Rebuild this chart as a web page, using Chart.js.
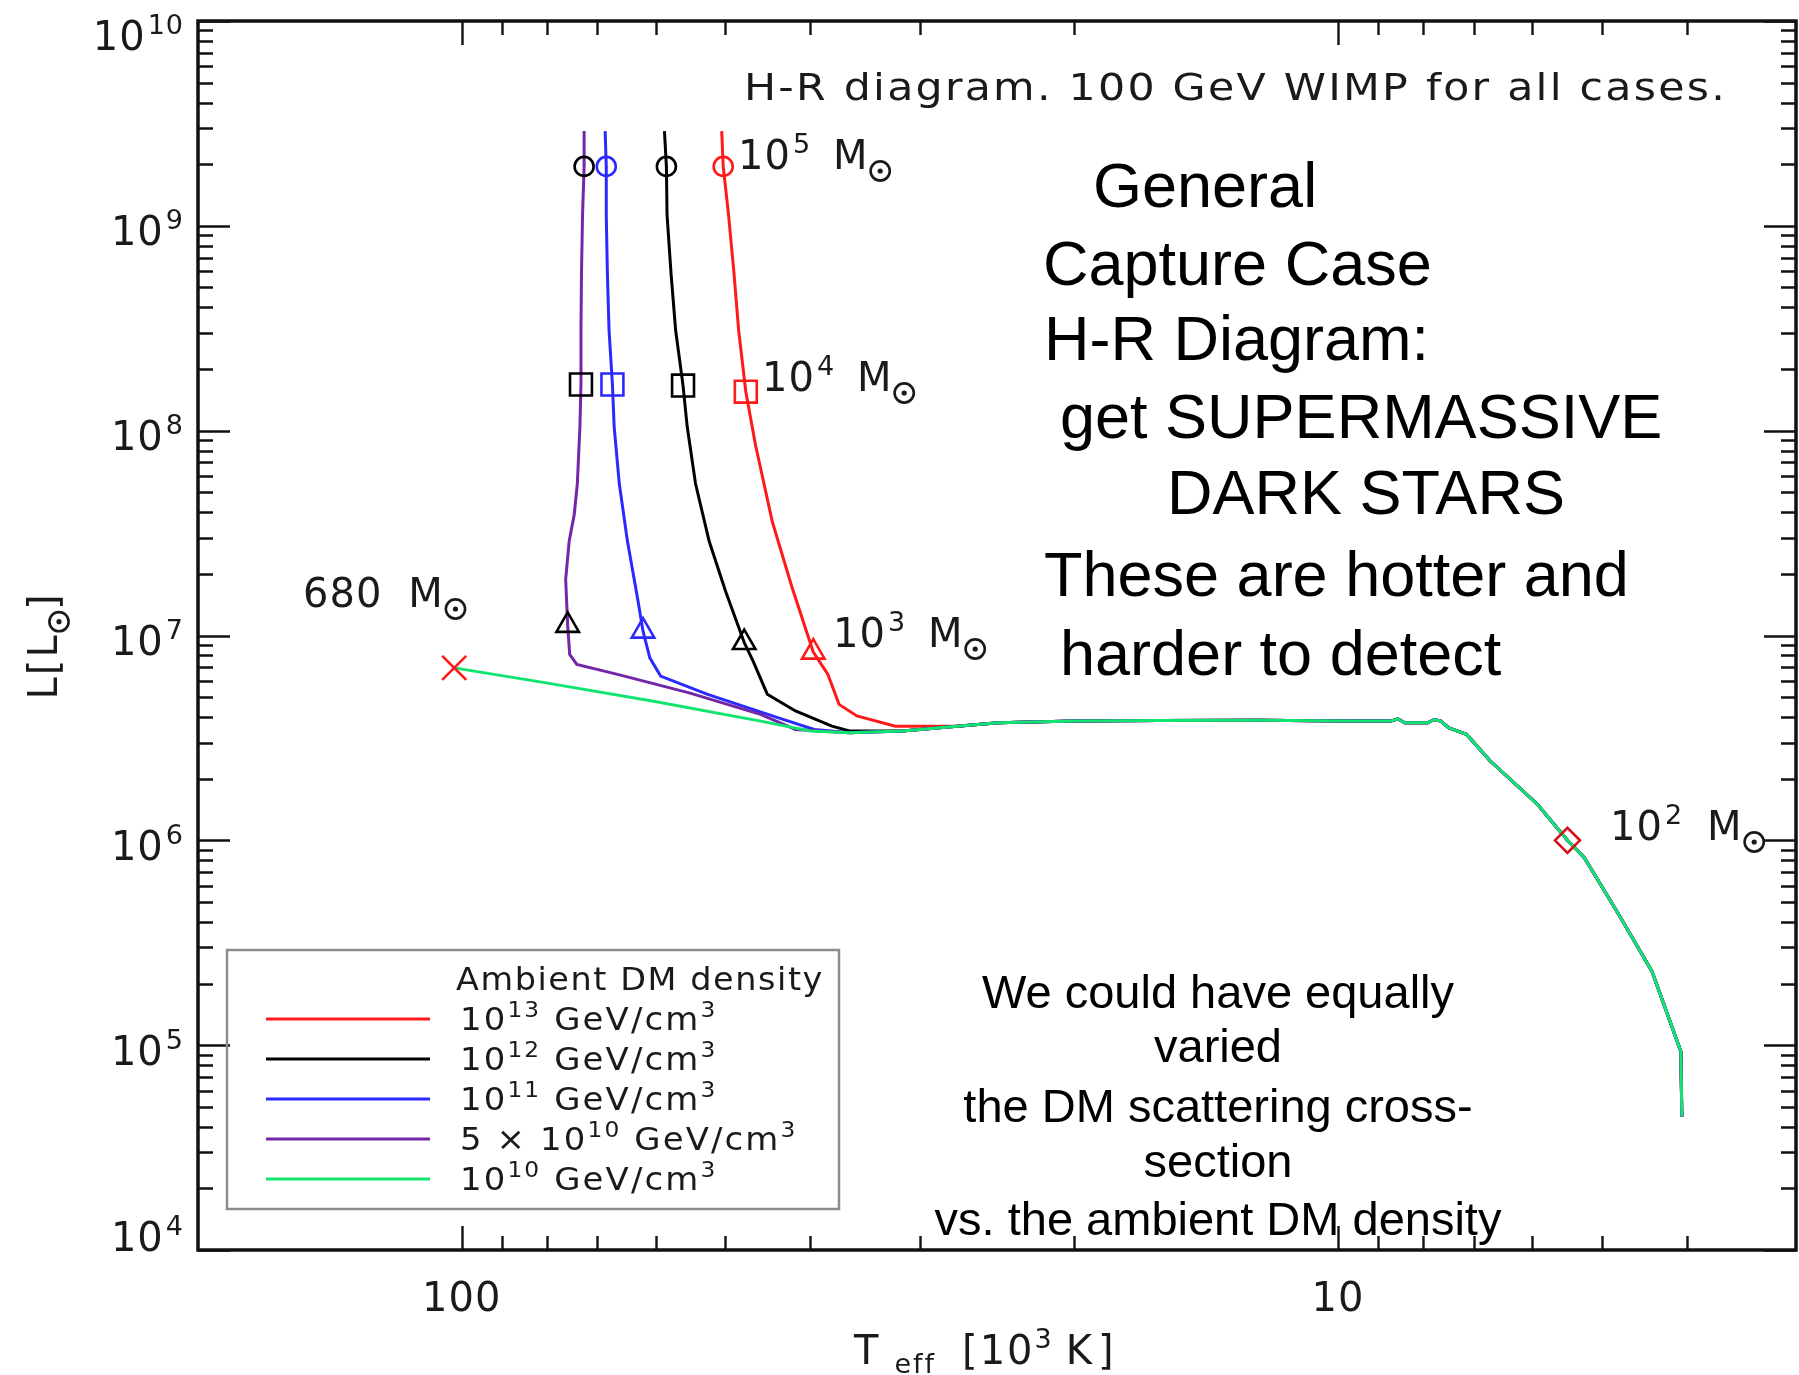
<!DOCTYPE html>
<html>
<head>
<meta charset="utf-8">
<title>Dark star H-R diagram</title>
<script src="https://cdn.jsdelivr.net/npm/chart.js@4.4.0/dist/chart.umd.min.js"></script>
<style>
  html, body { margin: 0; padding: 0; background: #fff; overflow: hidden; }
  #wrap { width: 1799px; height: 1375px; }
  canvas { display: block; }
</style>
</head>
<body>
<div id="wrap"><canvas id="hr" width="1799" height="1375"></canvas></div>
<script>
/* ---------------------------------------------------------------------------
   Tracks: T_eff in 10^3 K, luminosity in L_sun.
   Every density track ends on the same shared tail (tailTemp / tailLum).
   --------------------------------------------------------------------------- */
const tempRed    = [50.5, 50.3, 49.6, 48.9, 48.3, 47.4, 46.2, 44.2, 42.0, 39.7, 38.2, 37.1, 35.4, 32.0, 28.6];
const lumRed     = [2.90e9, 1.95e9, 1.13e9, 5.89e8, 3.09e8, 1.55e8, 8.49e7, 3.58e7, 1.73e7, 8.30e6, 6.46e6, 4.61e6, 4.05e6, 3.61e6, 3.61e6];

const tempBlack  = [58.7, 58.4, 58.3, 57.7, 57.0, 55.9, 55.3, 54.1, 52.2, 50.0, 47.6, 46.5, 44.8, 41.6, 37.8, 36.1, 31.4];
const lumBlack   = [2.90e9, 1.95e9, 1.13e9, 5.89e8, 3.09e8, 1.66e8, 1.05e8, 5.52e7, 2.89e7, 1.65e7, 9.24e6, 7.50e6, 5.17e6, 4.28e6, 3.61e6, 3.42e6, 3.42e6];

const tempBlue   = [68.6, 68.4, 68.4, 68.2, 67.9, 67.3, 67.0, 66.1, 64.7, 63.0, 62.1, 61.0, 59.3, 52.5, 43.5, 39.6, 36.1, 31.4];
const lumBlue    = [2.90e9, 1.95e9, 1.13e9, 5.89e8, 3.09e8, 1.68e8, 1.05e8, 5.52e7, 2.89e7, 1.52e7, 1.05e7, 7.78e6, 6.34e6, 5.17e6, 3.96e6, 3.48e6, 3.35e6, 3.42e6];

const tempPurple = [72.5, 72.5, 72.8, 73.0, 73.1, 73.1, 73.3, 73.8, 74.4, 75.4, 76.1, 75.7, 75.3, 73.9, 66.4, 55.0, 45.6, 41.6, 36.1, 31.4];
const lumPurple  = [2.90e9, 1.95e9, 1.13e9, 5.89e8, 3.09e8, 1.68e8, 1.05e8, 5.52e7, 3.91e7, 2.89e7, 1.88e7, 1.12e7, 8.09e6, 7.23e6, 6.46e6, 5.25e6, 4.12e6, 3.48e6, 3.35e6, 3.42e6];

const tempGreen  = [102, 80.1, 60.4, 45.6, 40.0, 36.1, 31.4];
const lumGreen   = [6.95e6, 5.87e6, 4.78e6, 3.82e6, 3.42e6, 3.35e6, 3.42e6];

const tailTemp = [27.2, 24.4, 20.0, 16.0, 12.3, 9.74, 8.70, 8.54, 8.39, 7.90, 7.76, 7.63, 7.47, 7.13, 6.70, 5.92, 5.47, 5.23, 4.78, 4.38, 4.06, 4.05];
const tailLum  = [3.61e6, 3.75e6, 3.82e6, 3.85e6, 3.86e6, 3.82e6, 3.82e6, 3.92e6, 3.75e6, 3.75e6, 3.89e6, 3.82e6, 3.54e6, 3.29e6, 2.44e6, 1.50e6, 1.00e6, 8.2e5, 4.34e5, 2.29e5, 9.31e4, 4.48e4];

// mass markers, ordered purple, blue, black, red
const circleTemp   = [72.5, 68.4, 58.4, 50.3];
const circleLum    = [1.95e9, 1.95e9, 1.95e9, 1.95e9];
const squareTemp   = [73.1, 67.3, 55.9, 47.4];
const squareLum    = [1.68e8, 1.68e8, 1.66e8, 1.55e8];
const triangleTemp = [75.7, 62.1, 47.6, 39.7];
const triangleLum  = [1.12e7, 1.05e7, 9.24e6, 8.30e6];
const markerColors = ['#000000', '#2a2aff', '#000000', '#ff1a1a'];

const startTemp = [102];    // 680 M_sun
const startLum  = [6.95e6];
const diamondTemp = [5.47]; // 10^2 M_sun
const diamondLum  = [1.0e6];

// axes
const lumTickExp     = [4, 5, 6, 7, 8, 9, 10];
const tempTickValues = [100, 10];
const tempTickLabels = ['100', '10'];
const tempMinorTicks = [4, 5, 6, 7, 8, 9, 20, 30, 40, 50, 60, 70, 80, 90];

// legend
const densityPrefix = ['', '', '', '5 \u00d7 ', ''];
const densityExp    = ['13', '12', '11', '10', '10'];

const COL = {
  red: '#ff1a1a',
  black: '#000000',
  blue: '#2a2aff',
  purple: '#7326a8',
  green: '#12e470'
};
const legendColors = [COL.red, COL.black, COL.blue, COL.purple, COL.green];

const IDL_FONT = '"DejaVu Sans", sans-serif';
const NOTE_FONT = '"Liberation Sans", Arial, sans-serif';
const INK = '#1a1a1a';

function toPoints(xs, ys) {
  return xs.map((x, i) => ({ x: x, y: ys[i] }));
}

function track(label, color, temps, lums, order) {
  return {
    label: label,
    data: toPoints(temps.concat(tailTemp), lums.concat(tailLum)),
    showLine: true,
    borderColor: color,
    borderWidth: 3,
    pointRadius: 0,
    fill: false,
    order: order
  };
}

function markers(temps, lums, style, radius, colors) {
  return {
    data: toPoints(temps, lums),
    showLine: false,
    pointStyle: style,
    pointRadius: radius,
    pointBorderColor: colors,
    pointBackgroundColor: 'rgba(0,0,0,0)',
    pointBorderWidth: 2.6,
    order: 0
  };
}

/* ---------------------------------------------------------------------------
   Text with superscripts / subscripts / sun symbol.
   parts: string | [text, 'sup'|'sub'|'sun'] | number (extra gap in px)
   hs stretches glyphs horizontally (IDL vector fonts run wide)
   --------------------------------------------------------------------------- */
function rich(ctx, parts, x, y, size, family, draw, hs) {
  hs = hs || 1;
  let cx = x;
  for (const p of parts) {
    if (typeof p === 'number') { cx += p; continue; }
    const txt = Array.isArray(p) ? p[0] : p;
    const kind = Array.isArray(p) ? p[1] : 'n';
    if (kind === 'sun') {
      const r = size * 0.24;
      if (draw) {
        ctx.save();
        ctx.lineWidth = size * 0.065;
        ctx.strokeStyle = ctx.fillStyle;
        ctx.beginPath();
        ctx.arc(cx + r + 2, y + size * 0.05, r, 0, Math.PI * 2);
        ctx.stroke();
        ctx.beginPath();
        ctx.arc(cx + r + 2, y + size * 0.05, size * 0.065, 0, Math.PI * 2);
        ctx.fill();
        ctx.restore();
      }
      cx += 2 * r + 4;
      continue;
    }
    const s = kind === 'n' ? size : Math.round(size * 0.68);
    const dy = kind === 'sup' ? -size * 0.4 : kind === 'sub' ? size * 0.22 : 0;
    ctx.font = s + 'px ' + family;
    if (draw) {
      ctx.save();
      ctx.translate(cx, y + dy);
      ctx.scale(hs, 1);
      ctx.fillText(txt, 0, 0);
      ctx.restore();
    }
    cx += ctx.measureText(txt).width * hs;
  }
  return cx - x;
}

// stretch a single line so it spans the given width
function fitText(ctx, text, x, y, width, size, family, spacing) {
  ctx.font = size + 'px ' + family;
  ctx.letterSpacing = spacing + 'px';
  const w0 = ctx.measureText(text).width;
  ctx.save();
  ctx.translate(x, y);
  ctx.scale(width / w0, 1);
  ctx.fillText(text, 0, 0);
  ctx.restore();
  ctx.letterSpacing = '0px';
}

/* ---------------------------------------------------------------------------
   Frame, IDL-style inward ticks, labels, legend and notes
   --------------------------------------------------------------------------- */
const hrDecor = {
  id: 'hrDecor',
  afterDraw(chart) {
    const { ctx, chartArea: a, scales: { x, y } } = chart;
    ctx.save();
    ctx.textBaseline = 'alphabetic';
    ctx.textAlign = 'left';

    // ticks
    ctx.strokeStyle = '#111';
    ctx.lineWidth = 2.4;
    ctx.beginPath();
    for (let e = 4; e < 10; e++) {
      for (let m = 2; m <= 9; m++) {
        const py = Math.round(y.getPixelForValue(m * Math.pow(10, e))) + 0.5;
        ctx.moveTo(a.left, py); ctx.lineTo(a.left + 15, py);
        ctx.moveTo(a.right, py); ctx.lineTo(a.right - 15, py);
      }
    }
    lumTickExp.forEach(e => {
      const py = Math.round(y.getPixelForValue(Math.pow(10, e))) + 0.5;
      ctx.moveTo(a.left, py); ctx.lineTo(a.left + 32, py);
      ctx.moveTo(a.right, py); ctx.lineTo(a.right - 32, py);
    });
    tempMinorTicks.forEach(t => {
      const px = Math.round(x.getPixelForValue(t)) + 0.5;
      ctx.moveTo(px, a.top); ctx.lineTo(px, a.top + 14);
      ctx.moveTo(px, a.bottom); ctx.lineTo(px, a.bottom - 14);
    });
    tempTickValues.forEach(t => {
      const px = Math.round(x.getPixelForValue(t)) + 0.5;
      ctx.moveTo(px, a.top); ctx.lineTo(px, a.top + 24);
      ctx.moveTo(px, a.bottom); ctx.lineTo(px, a.bottom - 24);
    });
    ctx.stroke();

    // frame
    ctx.lineWidth = 3.5;
    ctx.strokeRect(a.left, a.top, a.right - a.left, a.bottom - a.top);

    // tick labels
    ctx.fillStyle = INK;
    ctx.letterSpacing = '1px';
    lumTickExp.forEach(e => {
      const parts = ['10', 2, [String(e), 'sup']];
      const w = rich(ctx, parts, 0, 0, 40, IDL_FONT, false);
      let base = y.getPixelForValue(Math.pow(10, e)) + 19.5;
      base = Math.max(base, 50);
      base = Math.min(base, 1251);
      rich(ctx, parts, 184 - w, base, 40, IDL_FONT, true);
    });
    tempTickValues.forEach((t, i) => {
      ctx.font = '40px ' + IDL_FONT;
      const w = ctx.measureText(tempTickLabels[i]).width;
      ctx.fillText(tempTickLabels[i], x.getPixelForValue(t) - w / 2, 1311);
    });

    // axis titles
    ctx.letterSpacing = '2px';
    rich(ctx, ['T', 14, ['eff', 'sub'], 26, '[10', ['3', 'sup'], 12, 'K', 4, ']'], 854, 1364, 40, IDL_FONT, true);
    ctx.save();
    ctx.translate(57, 646);
    ctx.rotate(-Math.PI / 2);
    const yTitle = ['L', '[', 'L', ['', 'sun'], ']'];
    const yw = rich(ctx, yTitle, 0, 0, 40, IDL_FONT, false);
    rich(ctx, yTitle, -yw / 2, 0, 40, IDL_FONT, true);
    ctx.restore();

    // figure caption
    fitText(ctx, 'H-R diagram. 100 GeV WIMP for all cases.', 744, 100, 983, 38, IDL_FONT, 2);

    // mass labels
    ctx.letterSpacing = '1px';
    const sun = ['M', ['', 'sun']];
    rich(ctx, ['680', 26].concat(sun), 303, 607, 40, IDL_FONT, true);
    rich(ctx, ['10', 2, ['5', 'sup'], 22].concat(sun), 738, 169, 40, IDL_FONT, true);
    rich(ctx, ['10', 2, ['4', 'sup'], 22].concat(sun), 762, 391, 40, IDL_FONT, true);
    rich(ctx, ['10', 2, ['3', 'sup'], 22].concat(sun), 833, 647, 40, IDL_FONT, true);
    rich(ctx, ['10', 2, ['2', 'sup'], 24].concat(sun), 1610, 840, 40, IDL_FONT, true);

    // legend box
    ctx.letterSpacing = '0px';
    ctx.strokeStyle = '#8c8c8c';
    ctx.lineWidth = 2.5;
    ctx.strokeRect(227, 950, 612, 259);
    ctx.fillStyle = INK;
    fitText(ctx, 'Ambient DM density', 456, 990, 368, 32, IDL_FONT, 1.5);
    legendColors.forEach((c, i) => {
      const ly = 1019 + 40 * i;
      ctx.strokeStyle = c;
      ctx.lineWidth = 3;
      ctx.beginPath();
      ctx.moveTo(266, ly); ctx.lineTo(430, ly);
      ctx.stroke();
      ctx.letterSpacing = '2px';
      const parts = [densityPrefix[i] + '10', ['' + densityExp[i], 'sup'], ' GeV/cm', ['3', 'sup']];
      rich(ctx, parts, 460, ly + 11, 32, IDL_FONT, true, 1.06);
      ctx.letterSpacing = '0px';
    });

    // notes
    ctx.fillStyle = '#000';
    ctx.font = '63px ' + NOTE_FONT;
    [
      ['General', 1093, 207],
      ['Capture Case', 1043, 285],
      ['H-R Diagram:', 1044, 360],
      ['get SUPERMASSIVE', 1060, 438],
      ['DARK STARS', 1167, 514],
      ['These are hotter and', 1044, 596],
      ['harder to detect', 1060, 675]
    ].forEach(([t, tx, ty]) => ctx.fillText(t, tx, ty));

    ctx.font = '47px ' + NOTE_FONT;
    ctx.textAlign = 'center';
    [
      ['We could have equally', 1008],
      ['varied', 1062],
      ['the DM scattering cross-', 1122],
      ['section', 1177],
      ['vs. the ambient DM density', 1235]
    ].forEach(([t, ty]) => ctx.fillText(t, 1218, ty));

    ctx.restore();
  }
};

const canvas = document.getElementById('hr');
new Chart(canvas.getContext('2d'), {
  type: 'scatter',
  data: {
    datasets: [
      track('10^13 GeV/cm^3', COL.red, tempRed, lumRed, 5),
      track('10^12 GeV/cm^3', COL.black, tempBlack, lumBlack, 4),
      track('10^11 GeV/cm^3', COL.blue, tempBlue, lumBlue, 3),
      track('5x10^10 GeV/cm^3', COL.purple, tempPurple, lumPurple, 2),
      track('10^10 GeV/cm^3', COL.green, tempGreen, lumGreen, 1),
      markers(circleTemp, circleLum, 'circle', 9.5, markerColors),
      markers(squareTemp, squareLum, 'rect', 15.5, markerColors),
      markers(triangleTemp, triangleLum, 'triangle', 13, markerColors),
      markers(startTemp, startLum, 'crossRot', 17, [COL.red]),
      markers(diamondTemp, diamondLum, 'rectRot', 12.5, ['#d4111b'])
    ]
  },
  options: {
    responsive: false,
    animation: false,
    devicePixelRatio: 1,
    layout: { autoPadding: false, padding: { left: 198, right: 3, top: 21, bottom: 125 } },
    plugins: { legend: { display: false }, tooltip: { enabled: false } },
    scales: {
      x: { type: 'logarithmic', reverse: true, min: 3, max: 200, display: false },
      y: { type: 'logarithmic', min: 1e4, max: 1e10, display: false }
    }
  },
  plugins: [hrDecor]
});
</script>
</body>
</html>
